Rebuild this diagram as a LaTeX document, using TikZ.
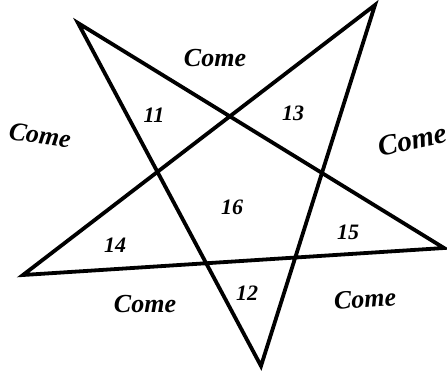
\documentclass[tikz,border=0pt]{standalone}
\usepackage{fontspec}
\setmainfont{Liberation Serif}
\begin{document}
\begin{tikzpicture}[x=1pt,y=-1pt,
  starline/.style={line width=3.8pt,line join=miter,miter limit=20,black},
  word/.style={font=\fontsize{26}{26}\selectfont\bfseries\itshape,inner sep=0pt},
  num/.style={font=\fontsize{22}{22}\selectfont\bfseries\itshape,inner sep=0pt}]
\useasboundingbox (0,0) rectangle (447,372);
\clip (0,0) rectangle (447,372);
\coordinate (tl) at (78,23);
\coordinate (tr) at (375,5);
\coordinate (r) at (444,248);
\coordinate (b) at (261,366);
\coordinate (l) at (23,275);
\draw[starline] (tl) -- (b) -- (tr) -- (l) -- (r) -- cycle;
\node[word] (c1) at (215,58) {Come};
\node[word,rotate=-8] (c2) at (40,135) {Come};
\node[word,rotate=12,anchor=west,font=\fontsize{29}{29}\selectfont\bfseries\itshape] (c3) at (378,147) {Come};
\node[word] (c4) at (145,304) {Come};
\node[word,rotate=4] (c5) at (365,299) {Come};
\node[num] (n11) at (154,115) {11};
\node[num] (n13) at (293,113) {13};
\node[num] (n16) at (232,207) {16};
\node[num] (n14) at (115,245) {14};
\node[num] (n15) at (348,232) {15};
\node[num] (n12) at (247,293) {12};
\end{tikzpicture}
\end{document}
